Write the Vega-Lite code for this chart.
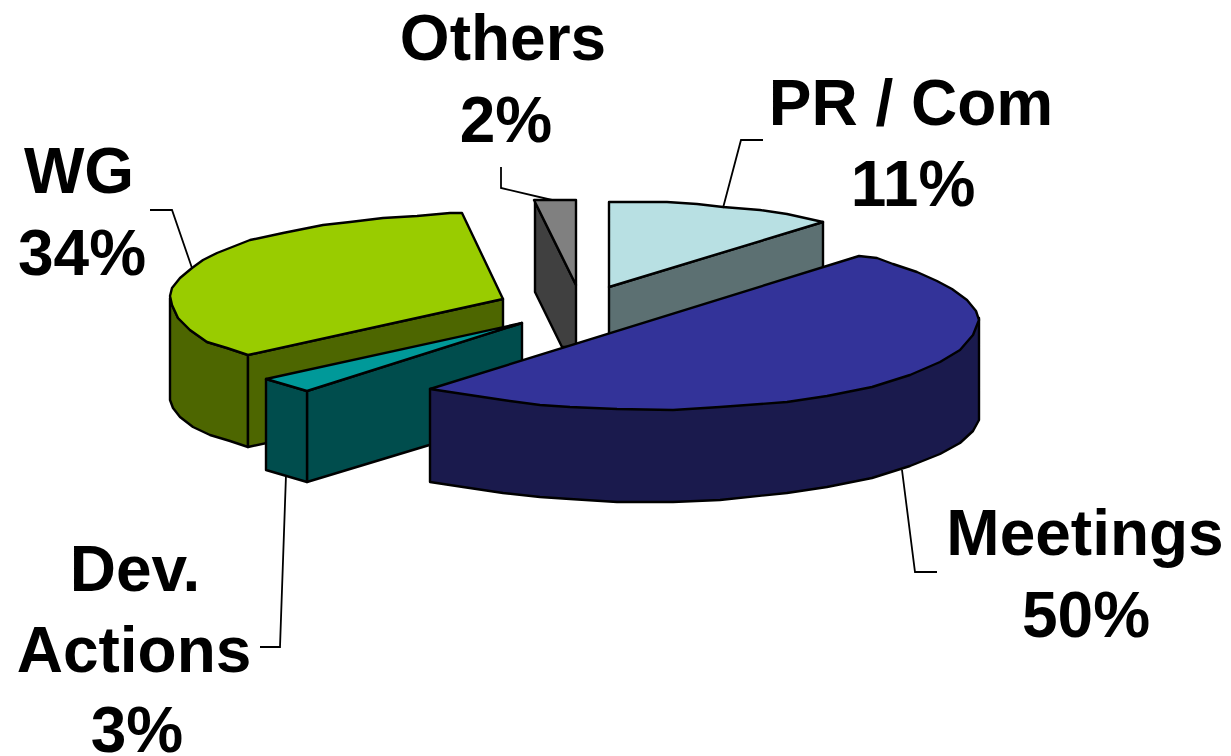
{"$schema":"https://vega.github.io/schema/vega-lite/v6.json","width":1231,"height":756,"padding":0,"autosize":"none","background":"white","config":{"view":{"stroke":null}},
"datasets":{
"faces":[
{"s":"WG side","o":1,"x":170,"y":298},{"s":"WG side","o":2,"x":172,"y":305},{"s":"WG side","o":3,"x":178,"y":318},{"s":"WG side","o":4,"x":190,"y":330},{"s":"WG side","o":5,"x":207,"y":342},{"s":"WG side","o":6,"x":227,"y":348},{"s":"WG side","o":7,"x":248,"y":355},{"s":"WG side","o":8,"x":248,"y":447},{"s":"WG side","o":9,"x":230,"y":441},{"s":"WG side","o":10,"x":210,"y":435},{"s":"WG side","o":11,"x":193,"y":427},{"s":"WG side","o":12,"x":180,"y":417},{"s":"WG side","o":13,"x":173,"y":408},{"s":"WG side","o":14,"x":170,"y":400},
{"s":"WG cut","o":1,"x":248,"y":355},{"s":"WG cut","o":2,"x":503,"y":299},{"s":"WG cut","o":3,"x":503,"y":392},{"s":"WG cut","o":4,"x":248,"y":447},
{"s":"WG top","o":1,"x":462,"y":213},{"s":"WG top","o":2,"x":503,"y":299},{"s":"WG top","o":3,"x":248,"y":355},{"s":"WG top","o":4,"x":227,"y":348},{"s":"WG top","o":5,"x":207,"y":342},{"s":"WG top","o":6,"x":190,"y":330},{"s":"WG top","o":7,"x":178,"y":318},{"s":"WG top","o":8,"x":172,"y":305},{"s":"WG top","o":9,"x":170,"y":296},{"s":"WG top","o":10,"x":172,"y":288},{"s":"WG top","o":11,"x":180,"y":278},{"s":"WG top","o":12,"x":192,"y":268},{"s":"WG top","o":13,"x":203,"y":260},{"s":"WG top","o":14,"x":217,"y":253},{"s":"WG top","o":15,"x":250,"y":240},{"s":"WG top","o":16,"x":283,"y":233},{"s":"WG top","o":17,"x":323,"y":225},{"s":"WG top","o":18,"x":350,"y":222},{"s":"WG top","o":19,"x":383,"y":218},{"s":"WG top","o":20,"x":417,"y":216},{"s":"WG top","o":21,"x":450,"y":213},
{"s":"Others side","o":1,"x":535,"y":202},{"s":"Others side","o":2,"x":535,"y":292},{"s":"Others side","o":3,"x":562,"y":347},{"s":"Others side","o":4,"x":576,"y":347},{"s":"Others side","o":5,"x":576,"y":285},
{"s":"Others top","o":1,"x":534,"y":200},{"s":"Others top","o":2,"x":576,"y":200},{"s":"Others top","o":3,"x":576,"y":285},
{"s":"PR side","o":1,"x":609,"y":287},{"s":"PR side","o":2,"x":823,"y":222},{"s":"PR side","o":3,"x":823,"y":270},{"s":"PR side","o":4,"x":609,"y":335},
{"s":"PR top","o":1,"x":609,"y":202},{"s":"PR top","o":2,"x":667,"y":202},{"s":"PR top","o":3,"x":697,"y":204},{"s":"PR top","o":4,"x":723,"y":207},{"s":"PR top","o":5,"x":760,"y":210},{"s":"PR top","o":6,"x":787,"y":214},{"s":"PR top","o":7,"x":823,"y":222},{"s":"PR top","o":8,"x":609,"y":287},
{"s":"Dev cut","o":1,"x":307,"y":391},{"s":"Dev cut","o":2,"x":522,"y":323},{"s":"Dev cut","o":3,"x":522,"y":417},{"s":"Dev cut","o":4,"x":307,"y":482},
{"s":"Dev side","o":1,"x":266,"y":379},{"s":"Dev side","o":2,"x":307,"y":391},{"s":"Dev side","o":3,"x":307,"y":482},{"s":"Dev side","o":4,"x":266,"y":470},
{"s":"Dev top","o":1,"x":266,"y":379},{"s":"Dev top","o":2,"x":522,"y":323},{"s":"Dev top","o":3,"x":307,"y":391},
{"s":"Meetings side","o":1,"x":430,"y":389},{"s":"Meetings side","o":2,"x":979,"y":318},{"s":"Meetings side","o":3,"x":979,"y":420},{"s":"Meetings side","o":4,"x":973,"y":431},{"s":"Meetings side","o":5,"x":960,"y":443},{"s":"Meetings side","o":6,"x":940,"y":454},{"s":"Meetings side","o":7,"x":910,"y":466},{"s":"Meetings side","o":8,"x":872,"y":478},{"s":"Meetings side","o":9,"x":827,"y":487},{"s":"Meetings side","o":10,"x":787,"y":493},{"s":"Meetings side","o":11,"x":720,"y":500},{"s":"Meetings side","o":12,"x":673,"y":502},{"s":"Meetings side","o":13,"x":617,"y":502},{"s":"Meetings side","o":14,"x":570,"y":499},{"s":"Meetings side","o":15,"x":540,"y":497},{"s":"Meetings side","o":16,"x":503,"y":493},{"s":"Meetings side","o":17,"x":463,"y":487},{"s":"Meetings side","o":18,"x":430,"y":482},
{"s":"Meetings top","o":1,"x":430,"y":389},{"s":"Meetings top","o":2,"x":859,"y":256},{"s":"Meetings top","o":3,"x":877,"y":258},{"s":"Meetings top","o":4,"x":893,"y":264},{"s":"Meetings top","o":5,"x":917,"y":272},{"s":"Meetings top","o":6,"x":937,"y":281},{"s":"Meetings top","o":7,"x":952,"y":289},{"s":"Meetings top","o":8,"x":967,"y":300},{"s":"Meetings top","o":9,"x":976,"y":311},{"s":"Meetings top","o":10,"x":979,"y":320},{"s":"Meetings top","o":11,"x":973,"y":335},{"s":"Meetings top","o":12,"x":960,"y":350},{"s":"Meetings top","o":13,"x":940,"y":362},{"s":"Meetings top","o":14,"x":910,"y":375},{"s":"Meetings top","o":15,"x":872,"y":387},{"s":"Meetings top","o":16,"x":827,"y":396},{"s":"Meetings top","o":17,"x":787,"y":402},{"s":"Meetings top","o":18,"x":720,"y":407},{"s":"Meetings top","o":19,"x":673,"y":410},{"s":"Meetings top","o":20,"x":617,"y":409},{"s":"Meetings top","o":21,"x":570,"y":407},{"s":"Meetings top","o":22,"x":540,"y":405},{"s":"Meetings top","o":23,"x":503,"y":400},{"s":"Meetings top","o":24,"x":463,"y":394}
],
"leaders":[
{"s":"PR","o":1,"x":723,"y":208},{"s":"PR","o":2,"x":741,"y":140},{"s":"PR","o":3,"x":763,"y":140},
{"s":"Others","o":1,"x":552,"y":200},{"s":"Others","o":2,"x":501,"y":188},{"s":"Others","o":3,"x":501,"y":167},
{"s":"WG","o":1,"x":192,"y":268},{"s":"WG","o":2,"x":172,"y":210},{"s":"WG","o":3,"x":150,"y":210},
{"s":"Meetings","o":1,"x":902,"y":470},{"s":"Meetings","o":2,"x":915,"y":572},{"s":"Meetings","o":3,"x":937,"y":572},
{"s":"Dev","o":1,"x":286,"y":475},{"s":"Dev","o":2,"x":280,"y":647},{"s":"Dev","o":3,"x":260,"y":647}
],
"labels":[
{"t":"Others","x":503,"y":60},{"t":"2%","x":506,"y":142},
{"t":"PR / Com","x":911,"y":125},{"t":"11%","x":913,"y":206},
{"t":"WG","x":79,"y":193},{"t":"34%","x":82,"y":275},
{"t":"Meetings","x":1085,"y":555},{"t":"50%","x":1086,"y":637},
{"t":"Dev.","x":135,"y":591},{"t":"Actions","x":134,"y":672},{"t":"3%","x":137,"y":752}
]},
"layer":[
{"data":{"name":"faces"},"mark":{"type":"line","interpolate":"linear-closed","stroke":"#000000","strokeWidth":2.4,"strokeJoin":"round"},
"encoding":{"x":{"field":"x","type":"quantitative","scale":{"domain":[0,1231],"nice":false,"zero":false},"axis":null},"y":{"field":"y","type":"quantitative","scale":{"domain":[756,0],"nice":false,"zero":false},"axis":null},"order":{"field":"o","type":"ordinal"},
"fill":{"field":"s","type":"nominal","legend":null,"scale":{"domain":["WG side","WG cut","WG top","Others side","Others top","PR side","PR top","Dev cut","Dev side","Dev top","Meetings side","Meetings top"],"range":["#4d6600","#4d6600","#99cc00","#404040","#808080","#5c7072","#b8e0e3","#004d4d","#004d4d","#009999","#1a1a4d","#333399"]}}}},
{"data":{"name":"leaders"},"mark":{"type":"line","stroke":"#000000","strokeWidth":1.8},
"encoding":{"x":{"field":"x","type":"quantitative"},"y":{"field":"y","type":"quantitative"},"order":{"field":"o","type":"ordinal"},"detail":{"field":"s"}}},
{"data":{"name":"labels"},"mark":{"type":"text","font":"Liberation Sans","fontWeight":"bold","fontSize":64,"align":"center","baseline":"alphabetic","color":"#000000"},
"encoding":{"x":{"field":"x","type":"quantitative"},"y":{"field":"y","type":"quantitative"},"text":{"field":"t"}}}
]}
